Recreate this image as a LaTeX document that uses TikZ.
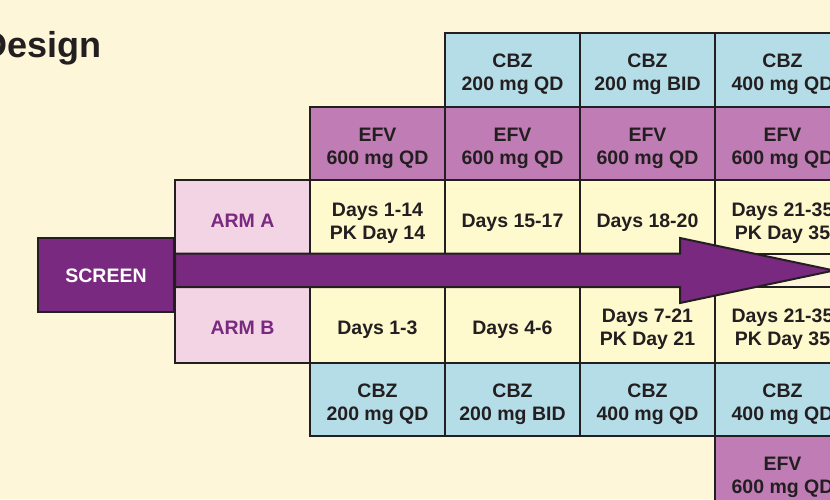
\documentclass[tikz,border=0pt]{standalone}
\usepackage{fontspec}
\setmainfont{Liberation Sans}
\usetikzlibrary{positioning}

\definecolor{pagecream}{RGB}{253,246,216}
\definecolor{cbzblue}{RGB}{181,221,232}
\definecolor{efvmauve}{RGB}{192,124,180}
\definecolor{daysyellow}{RGB}{255,250,205}
\definecolor{armpink}{RGB}{242,212,228}
\definecolor{screenpurple}{RGB}{122,41,128}
\definecolor{inkdark}{RGB}{35,31,32}

\newcommand\cellfont{\fontsize{19.5}{23}\selectfont\bfseries}
\newcommand\titlefont{\fontsize{36}{40}\selectfont\bfseries}

\begin{document}
\begin{tikzpicture}[
  x=1pt, y=-1pt,
  node distance=0pt and 0pt,
  cell/.style={draw=inkdark, line width=2pt, outer sep=0pt, inner sep=0pt,
               minimum width=135pt, minimum height=73.5pt, align=center,
               text height=19pt, text depth=0pt, font=\cellfont, text=inkdark},
  twoline/.style={text height=42pt},
  cbz/.style={cell, fill=cbzblue, twoline},
  efv/.style={cell, fill=efvmauve, twoline},
  days/.style={cell, fill=daysyellow},
  arm/.style={cell, fill=armpink, text=screenpurple},
  bigarrow/.style={draw=inkdark, line width=2pt, fill=screenpurple, line join=miter}
]
\useasboundingbox (0,0) rectangle (830,499);
\clip (0,0) rectangle (830,499);
\fill[pagecream] (0,0) rectangle (830,499);

\node[anchor=base east, inner sep=0pt, font=\titlefont, text=inkdark] (title) at (102,57) {Design};

% arm A
\node[arm, anchor=north west, text height=22pt] (armA) at (175,180) {ARM A};
\node[days, right=of armA, text height=46pt] (dA1) {Days 1-14\\PK Day 14};
\node[days, right=of dA1, text height=22pt] (dA2) {Days 15-17};
\node[days, right=of dA2, text height=22pt] (dA3) {Days 18-20};
\node[days, right=of dA3, text height=46pt] (dA4) {Days 21-35\\PK Day 35};
\node[efv, above=of dA1] (eA1) {EFV\\600 mg QD};
\node[efv, above=of dA2] (eA2) {EFV\\600 mg QD};
\node[efv, above=of dA3] (eA3) {EFV\\600 mg QD};
\node[efv, above=of dA4] (eA4) {EFV\\600 mg QD};
\node[cbz, above=of eA2] (cA2) {CBZ\\200 mg QD};
\node[cbz, above=of eA3] (cA3) {CBZ\\200 mg BID};
\node[cbz, above=of eA4] (cA4) {CBZ\\400 mg QD};

% arm B
\node[arm, below=33.5pt of armA, minimum height=75.5pt] (armB) {ARM B};
\node[days, right=of armB, minimum height=75.5pt] (dB1) {Days 1-3};
\node[days, right=of dB1, minimum height=75.5pt] (dB2) {Days 4-6};
\node[days, twoline, right=of dB2, minimum height=75.5pt] (dB3) {Days 7-21\\PK Day 21};
\node[days, twoline, right=of dB3, minimum height=75.5pt] (dB4) {Days 21-35\\PK Day 35};
\node[cbz, below=of dB1] (cB1) {CBZ\\200 mg QD};
\node[cbz, below=of dB2] (cB2) {CBZ\\200 mg BID};
\node[cbz, below=of dB3] (cB3) {CBZ\\400 mg QD};
\node[cbz, below=of dB4] (cB4) {CBZ\\400 mg QD};
\node[efv, below=of cB4] (eB4) {EFV\\600 mg QD};

\node[cell, fill=screenpurple, text=white, text height=14.2pt, minimum width=136pt,
      minimum height=74pt, anchor=north west] (screen) at (38,238) {SCREEN};

% the big arrow
\coordinate (tip) at (834,270.5);
\draw[bigarrow] (armA.south west) -- (armA.south west -| 680,0) -- (680,238) -- (tip)
  -- (680,303) -- (armB.north west -| 680,0) -- (armB.north west) -- cycle;
\end{tikzpicture}
\end{document}
